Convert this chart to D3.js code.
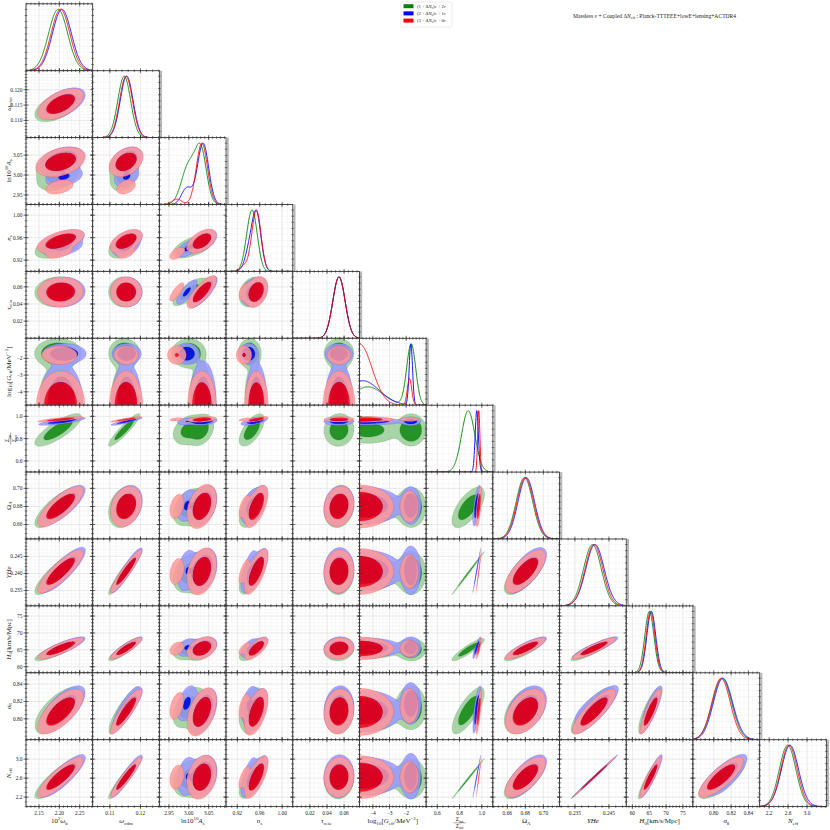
<!DOCTYPE html>
<html>
<head>
<meta charset="utf-8">
<script src="https://cdn.jsdelivr.net/npm/d3@7"></script>
<style>
  body { margin: 0; background: #fff; }
  text { font-family: "Liberation Serif", "DejaVu Serif", serif; fill: #222; }
</style>
</head>
<body>
<svg id="chart" width="830" height="830"></svg>
<script>
// ---- parameters (order of the triangle) ----
const paramLo = [2.118, 0.1044, 2.926, 0.900, 0.000, -4.8, 0.5, 0.644, 0.2305, 58.2, 0.776, 2.0];
const paramHi = [2.282, 0.1262, 3.094, 1.019, 0.078, -0.8, 1.1, 0.718, 0.2501, 78.0, 0.853, 3.41];
const xTicks = [[2.15, 2.20, 2.25], [0.11, 0.12], [2.95, 3.00, 3.05], [0.92, 0.96, 1.00], [0.02, 0.04, 0.06],
  [-4, -3, -2], [0.6, 0.8, 1.0], [0.66, 0.68, 0.70], [0.235, 0.245], [60, 65, 70, 75], [0.80, 0.82, 0.84], [2.2, 2.6, 3.0]];
const yTicks = [[], [0.110, 0.115, 0.120], [2.95, 3.00, 3.05], [0.92, 0.96, 1.00], [0.02, 0.04, 0.06],
  [-4, -3, -2], [0.6, 0.8, 1.0], [0.66, 0.68, 0.70], [0.235, 0.240, 0.245], [60, 65, 70, 75], [0.80, 0.82, 0.84], [2.2, 2.6, 3.0]];
const xTickFmt = [".2f", ".2f", ".2f", ".2f", ".2f", "d", ".1f", ".2f", ".3f", "d", ".2f", ".1f"];
const yTickFmt = ["", ".3f", ".2f", ".2f", ".2f", "d", ".1f", ".2f", ".3f", "d", ".2f", ".1f"];
// extra smoothing width used only for the 2D panels (like a 2D kernel)
const kernel2D = [0, 0, 0, 0, 0, 0.25, 0, 0, 0, 0, 0, 0];

// axis labels as [text, style] pieces
const paramLabels = [
  [["10", "r"], ["2", "sup"], ["ω", "i"], ["b", "sub"]],
  [["ω", "i"], ["cdm", "sub"]],
  [["ln10", "r"], ["10", "sup"], ["A", "i"], ["s", "sub"]],
  [["n", "i"], ["s", "sub"]],
  [["τ", "i"], ["reio", "sub"]],
  [["log", "r"], ["10", "sub"], ["[", "r"], ["G", "i"], ["eff", "sub"], ["/MeV", "r"], ["−2", "sup"], ["]", "r"]],
  "frac",
  [["Ω", "r"], ["Λ", "sub"]],
  [["YHe", "i"]],
  [["H", "i"], ["0", "sub"], ["[km/s/Mpc]", "r"]],
  [["σ", "i"], ["8", "sub"]],
  [["N", "i"], ["eff", "sub"]]
];
const fracTop = [["Σ", "i"], ["int", "sub"]];
const fracBottom = [["Σ", "i"], ["tot", "sub"]];

// ---- chains summarised as two modes each (moderate / strong self-interaction) ----
const greenWeights = [0.5, 0.5];
const greenMeanMI = [2.197, 0.1147, 3.031, 0.950, 0.054, -4.3, 0.878, 0.679, 0.24015, 65.0, 0.806, 2.59];
const greenSigmaMI = [0.023, 0.0021, 0.014, 0.0082, 0.0072, 0.9, 0.060, 0.0092, 0.0026, 1.3, 0.0105, 0.175];
const greenMeanSI = [2.197, 0.1147, 3.000, 0.942, 0.054, -1.70, 0.878, 0.679, 0.24015, 65.1, 0.813, 2.59];
const greenSigmaSI = [0.024, 0.0021, 0.018, 0.0085, 0.0072, 0.27, 0.060, 0.0092, 0.0026, 1.4, 0.0105, 0.175];

const blueWeights = [0.8, 0.2];
const blueMeanMI = [2.205, 0.1155, 3.036, 0.954, 0.054, -4.6, 0.955, 0.681, 0.2409, 65.6, 0.809, 2.64];
const blueSigmaMI = [0.023, 0.0021, 0.014, 0.0082, 0.0072, 1.0, 0.014, 0.0092, 0.0026, 1.3, 0.0105, 0.175];
const blueMeanSI = [2.212, 0.1155, 2.995, 0.940, 0.054, -1.72, 0.955, 0.681, 0.2409, 65.7, 0.818, 2.64];
const blueSigmaSI = [0.024, 0.0021, 0.013, 0.0075, 0.0072, 0.10, 0.0175, 0.0092, 0.00325, 1.4, 0.0105, 0.22];

const redWeights = [0.93, 0.07];
const redMeanMI = [2.203, 0.1153, 3.033, 0.954, 0.054, -4.8, 0.973, 0.680, 0.2406, 65.4, 0.808, 2.62];
const redSigmaMI = [0.023, 0.0021, 0.014, 0.0082, 0.0072, 0.75, 0.010, 0.0092, 0.0026, 1.3, 0.0105, 0.175];
const redMeanSI = [2.200, 0.1153, 2.970, 0.932, 0.054, -1.80, 0.973, 0.680, 0.2406, 65.4, 0.815, 2.62];
const redSigmaSI = [0.023, 0.0021, 0.012, 0.0070, 0.0072, 0.13, 0.010, 0.0092, 0.0026, 1.3, 0.0105, 0.175];

// correlation coefficients, lower triangle (row i, columns 0..i-1)
const corrRows = [
  [],
  [0.55],
  [0.35, 0.35],
  [0.55, 0.50, 0.50],
  [0.05, 0.00, 0.78, 0.30],
  [0, 0, 0, 0, 0],
  [0.80, 0.92, 0.30, 0.70, 0.05, 0],
  [0.78, 0.25, 0.35, 0.60, 0.15, 0, 0.65],
  [0.85, 0.94, 0.30, 0.70, 0.05, 0, 0.998, 0.70],
  [0.85, 0.88, 0.35, 0.70, 0.10, 0, 0.90, 0.85, 0.90],
  [0.70, 0.90, 0.45, 0.55, 0.10, 0, 0.80, 0.45, 0.85, 0.88],
  [0.85, 0.94, 0.25, 0.70, 0.05, 0, 0.998, 0.70, 0.998, 0.92, 0.82]
];

const modelColors = ["#008000", "#0000ff", "#ff0000"];
const modelPale = ["#99cc99", "#9999ff", "#ff9999"];
const legendLabels = [
  [["(1 + Δ", "r"], ["N", "i"], ["ν", "sub"], [")", "r"], ["ν", "i"], [" + 2", "r"], ["ν", "i"]],
  [["(2 + Δ", "r"], ["N", "i"], ["ν", "sub"], [")", "r"], ["ν", "i"], [" + 1", "r"], ["ν", "i"]],
  [["(3 + Δ", "r"], ["N", "i"], ["ν", "sub"], [")", "r"], ["ν", "i"], [" + 0", "r"], ["ν", "i"]]
];
const titleParts = [["Massless ", "r"], ["ν", "i"], [" + Coupled Δ", "r"], ["N", "i"], ["eff", "sub"],
  [" : Planck-TTTEEE+lowE+lensing+ACTDR4", "r"]];

const models = [
  { weights: greenWeights, means: [greenMeanMI, greenMeanSI], sigmas: [greenSigmaMI, greenSigmaSI] },
  { weights: blueWeights, means: [blueMeanMI, blueMeanSI], sigmas: [blueSigmaMI, blueSigmaSI] },
  { weights: redWeights, means: [redMeanMI, redMeanSI], sigmas: [redSigmaMI, redSigmaSI] }
];

// ---- layout ----
const svg = d3.select("#chart");
const left = 26, top0 = 3.8, cw = 66.7, ch = 66.9;
const nPar = paramLo.length;
const xScales = d3.range(nPar).map(j => d3.scaleLinear().domain([paramLo[j], paramHi[j]]).range([0, cw]));
const yScales = d3.range(nPar).map(i => d3.scaleLinear().domain([paramLo[i], paramHi[i]]).range([ch, 0]));
const yDens = d3.scaleLinear().domain([0, 1.09]).range([ch, 0]);

function rho(i, j) { return i > j ? corrRows[i][j] : corrRows[j][i]; }

function writeMath(sel, parts, size) {
  let shift = 0;
  parts.forEach(p => {
    const [str, kind] = p;
    let target = 0, fs = size, style = "normal";
    if (kind === "sub") { target = 0.28 * size; fs = size * 0.7; }
    if (kind === "sup") { target = -0.4 * size; fs = size * 0.7; }
    if (kind === "i") style = "italic";
    sel.append("tspan").attr("dy", target - shift).attr("font-size", fs)
      .attr("font-style", style).text(str);
    shift = target;
  });
}

function minorTicks(ticks, lo, hi) {
  if (ticks.length < 2) return [];
  const step = ticks[1] - ticks[0];
  const mant = step / Math.pow(10, Math.floor(Math.log10(step) + 1e-9));
  const nd = (Math.abs(mant - 1) < 1e-6 || Math.abs(mant - 5) < 1e-6) ? 5 : 4;
  const ms = step / nd, out = [];
  for (let v = ticks[0] - Math.ceil((ticks[0] - lo) / ms) * ms; v <= hi + 1e-12; v += ms) {
    if (v >= lo - 1e-12) out.push(v);
  }
  return out;
}

function gaussMix1D(model, p, x) {
  let s = 0;
  model.weights.forEach((w, m) => {
    const mu = model.means[m][p], sg = model.sigmas[m][p];
    const d = (x - mu) / sg;
    s += w / (sg * Math.sqrt(2 * Math.PI)) * Math.exp(-0.5 * d * d);
  });
  return s;
}

function density2D(model, i, j, N) {
  const vals = new Float64Array(N * N);
  const r = rho(i, j);
  const xs = d3.range(N).map(k => paramLo[j] + (k + 0.5) / N * (paramHi[j] - paramLo[j]));
  const ys = d3.range(N).map(k => paramLo[i] + (k + 0.5) / N * (paramHi[i] - paramLo[i]));
  model.weights.forEach((w, m) => {
    const mx = model.means[m][j], my = model.means[m][i];
    const sx = Math.hypot(model.sigmas[m][j], kernel2D[j]);
    const sy = Math.hypot(model.sigmas[m][i], kernel2D[i]);
    const om = 1 - r * r;
    const norm = w / (2 * Math.PI * sx * sy * Math.sqrt(om));
    for (let a = 0; a < N; a++) {
      const dy = (ys[a] - my) / sy;
      for (let b = 0; b < N; b++) {
        const dx = (xs[b] - mx) / sx;
        const q = (dx * dx - 2 * r * dx * dy + dy * dy) / om;
        vals[a * N + b] += norm * Math.exp(-0.5 * q);
      }
    }
  });
  return vals;
}

function levels(vals) {
  const s = Float64Array.from(vals).sort().reverse();
  const total = d3.sum(s);
  let c = 0, t68 = null, t95 = null;
  for (let k = 0; k < s.length; k++) {
    c += s[k];
    if (t68 === null && c >= 0.68 * total) t68 = s[k];
    if (c >= 0.95 * total) { t95 = s[k]; break; }
  }
  return [t95, t68];
}

const gridMinor = "#eeeeee", gridMajor = "#dcdcdc";

for (let i = 0; i < nPar; i++) {
  for (let j = 0; j <= i; j++) {
    const g = svg.append("g").attr("transform", `translate(${left + j * cw},${top0 + i * ch})`);
    const xs = xScales[j];
    const diag = i === j;
    const ys = diag ? yDens : yScales[i];
    const xMaj = xTicks[j], xMin = minorTicks(xTicks[j], paramLo[j], paramHi[j]);
    const yMaj = diag ? [] : yTicks[i];
    const yMin = diag ? d3.range(0.1, 1.09, 0.1) : minorTicks(yTicks[i], paramLo[i], paramHi[i]);

    g.append("rect").attr("width", cw).attr("height", ch).attr("fill", "#fff");
    // grid
    g.selectAll(".gxm").data(xMin).enter().append("line")
      .attr("x1", d => xs(d)).attr("x2", d => xs(d)).attr("y1", 0).attr("y2", ch)
      .attr("stroke", gridMinor).attr("stroke-width", 0.4);
    g.selectAll(".gym").data(yMin).enter().append("line")
      .attr("y1", d => ys(d)).attr("y2", d => ys(d)).attr("x1", 0).attr("x2", cw)
      .attr("stroke", gridMinor).attr("stroke-width", 0.4);
    g.selectAll(".gxM").data(xMaj).enter().append("line")
      .attr("x1", d => xs(d)).attr("x2", d => xs(d)).attr("y1", 0).attr("y2", ch)
      .attr("stroke", gridMajor).attr("stroke-width", 0.5);
    g.selectAll(".gyM").data(yMaj).enter().append("line")
      .attr("y1", d => ys(d)).attr("y2", d => ys(d)).attr("x1", 0).attr("x2", cw)
      .attr("stroke", gridMajor).attr("stroke-width", 0.5);

    if (diag) {
      const xsGrid = d3.range(0, 301).map(k => paramLo[j] + k / 300 * (paramHi[j] - paramLo[j]));
      models.forEach((m, mi) => {
        const dens = xsGrid.map(x => gaussMix1D(m, j, x));
        const mx = d3.max(dens);
        const pts = xsGrid.map((x, k) => [x, dens[k] / mx]);
        g.append("path").datum(pts)
          .attr("d", d3.line().x(d => xs(d[0])).y(d => ys(d[1])))
          .attr("fill", "none").attr("stroke", modelColors[mi]).attr("stroke-width", 0.9);
      });
    } else {
      const N = Math.abs(rho(i, j)) > 0.99 ? 320 : 140;
      models.forEach((m, mi) => {
        const vals = density2D(m, i, j, N);
        const [t95, t68] = levels(vals);
        const conts = d3.contours().size([N, N]).thresholds([t95, t68])(vals);
        const proj = d3.geoTransform({
          point: function (gx, gy) {
            this.stream.point(
              xs(paramLo[j] + gx / N * (paramHi[j] - paramLo[j])),
              ys(paramLo[i] + gy / N * (paramHi[i] - paramLo[i])));
          }
        });
        const path = d3.geoPath(proj);
        const outer = path(conts[0]) || "", inner = path(conts[1]) || "";
        // 95% band (ring) and 68% core, each filled once like a filled contour plot
        g.append("path").attr("d", outer + inner).attr("fill-rule", "evenodd")
          .attr("fill", modelPale[mi]).attr("fill-opacity", 0.85)
          .attr("stroke", modelColors[mi]).attr("stroke-opacity", 0.3).attr("stroke-width", 0.5);
        g.append("path").attr("d", inner).attr("fill", modelColors[mi]).attr("fill-opacity", 0.85)
          .attr("stroke", "none");
      });
    }

    // frame
    g.append("rect").attr("width", cw).attr("height", ch).attr("fill", "none")
      .attr("stroke", "#333").attr("stroke-width", 0.9);
    if (diag && i > 0) {
      g.append("rect").attr("x", cw + 0.5).attr("width", 2.2).attr("height", ch).attr("fill", "#b8b8b8");
    }
    // ticks on all sides (in and out)
    const tk = (vals, len, horiz) => {
      vals.forEach(v => {
        if (horiz) {
          const x = xs(v);
          [0, ch].forEach(y0 => g.append("line").attr("x1", x).attr("x2", x)
            .attr("y1", y0 - len).attr("y2", y0 + len).attr("stroke", "#333").attr("stroke-width", 0.6));
        } else {
          const y = ys(v);
          [0, cw].forEach(x0 => g.append("line").attr("y1", y).attr("y2", y)
            .attr("x1", x0 - len).attr("x2", x0 + len).attr("stroke", "#333").attr("stroke-width", 0.6));
        }
      });
    };
    tk(xMaj, 2.6, true); tk(xMin, 1.3, true);
    tk(yMaj, 2.6, false); tk(yMin, 1.3, false);

    if (j === 0 && i > 0) {
      const f = d3.format(yTickFmt[i]);
      g.selectAll(".ytl").data(yMaj).enter().append("text")
        .attr("x", -3.5).attr("y", d => ys(d)).attr("dy", "0.35em")
        .attr("text-anchor", "end").attr("font-size", 5.4)
        .text(d => f(d).replace("-", "−"));
    }
    if (i === nPar - 1) {
      const f = d3.format(xTickFmt[j]);
      g.selectAll(".xtl").data(xMaj).enter().append("text")
        .attr("x", d => xs(d)).attr("y", ch + 8.5)
        .attr("text-anchor", "middle").attr("font-size", 5.4)
        .text(d => f(d).replace("-", "−"));
    }
  }
}

// axis labels
function drawLabel(p, x, y, rotate) {
  const g = svg.append("g").attr("transform", `translate(${x},${y})` + (rotate ? " rotate(-90)" : ""));
  if (paramLabels[p] === "frac") {
    const t1 = g.append("text").attr("text-anchor", "middle").attr("y", -1.2);
    writeMath(t1, fracTop, 5.6);
    const t2 = g.append("text").attr("text-anchor", "middle").attr("y", 5.2);
    writeMath(t2, fracBottom, 5.6);
    g.append("line").attr("x1", -6).attr("x2", 6).attr("y1", 0.2).attr("y2", 0.2)
      .attr("stroke", "#222").attr("stroke-width", 0.4);
  } else {
    const t = g.append("text").attr("text-anchor", "middle");
    writeMath(t, paramLabels[p], 7);
  }
}
for (let j = 0; j < nPar; j++) drawLabel(j, left + j * cw + cw / 2, top0 + nPar * ch + 16, false);
for (let i = 1; i < nPar; i++) drawLabel(i, 10.5, top0 + i * ch + ch / 2, true);

// legend
const lg = svg.append("g").attr("transform", "translate(401,2)");
lg.append("rect").attr("width", 51).attr("height", 25).attr("rx", 1.5)
  .attr("fill", "#fff").attr("stroke", "#ddd").attr("stroke-width", 0.6);
legendLabels.forEach((lab, k) => {
  lg.append("rect").attr("x", 2.5).attr("y", 2.2 + k * 7.2).attr("width", 10).attr("height", 4)
    .attr("fill", modelColors[k]);
  const t = lg.append("text").attr("x", 16).attr("y", 5.8 + k * 7.2);
  writeMath(t, lab, 4.6);
});

// title
const tt = svg.append("text").attr("x", 573).attr("y", 17.5);
writeMath(tt, titleParts, 5.6);
</script>
</body>
</html>
